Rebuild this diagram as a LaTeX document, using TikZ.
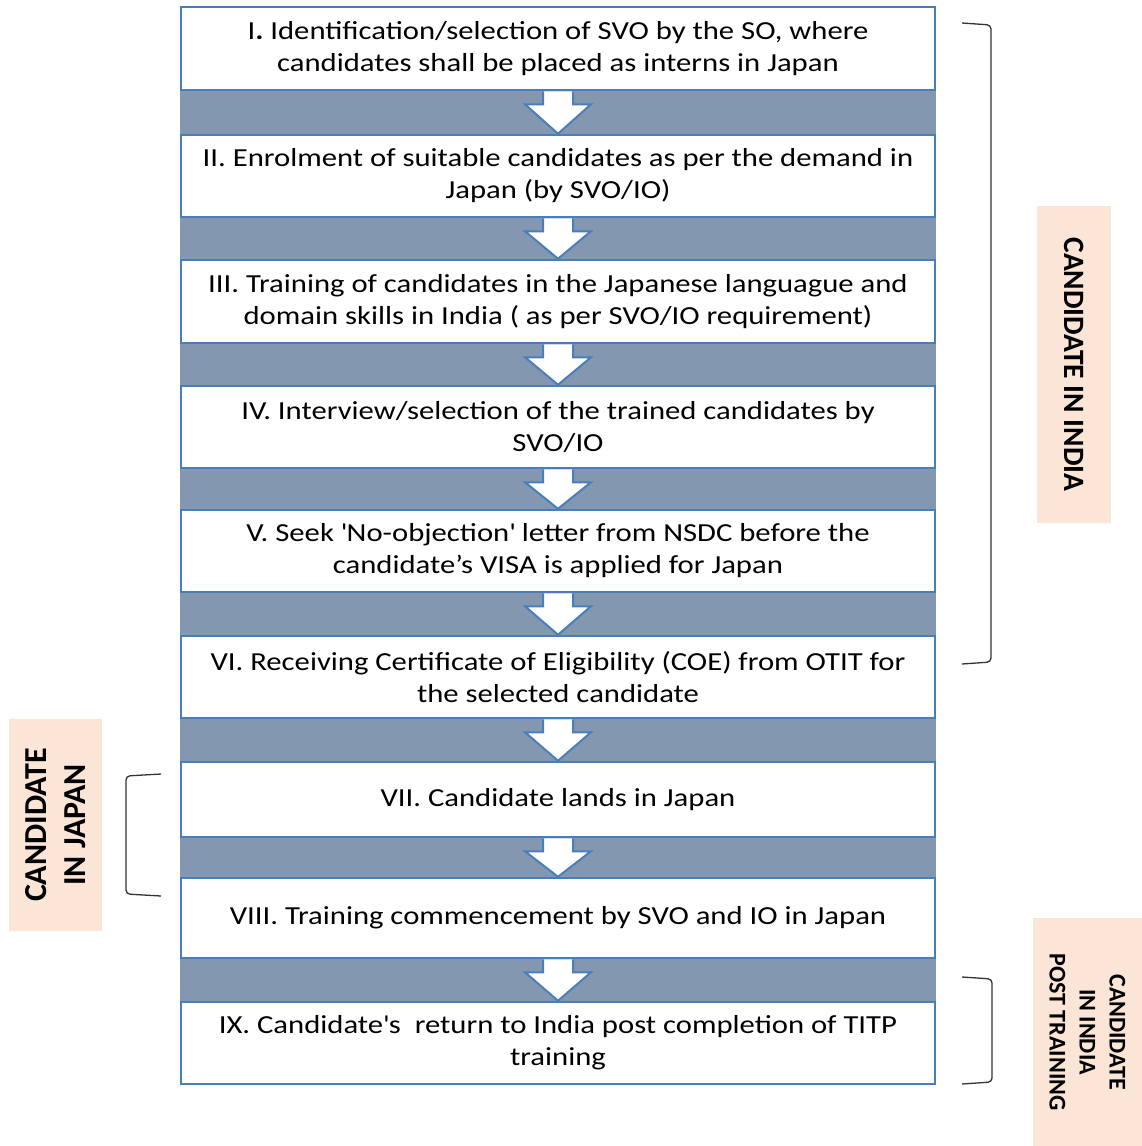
\documentclass[tikz,border=0pt]{standalone}
\usepackage{fontspec}
\setmainfont{Carlito}
\newfontfamily\boxfont{Carlito}[FakeStretch=1.18]
\usetikzlibrary{calc,backgrounds}

\definecolor{boxblue}{RGB}{74,126,187}
\definecolor{bandgrey}{RGB}{132,151,176}
\definecolor{peach}{RGB}{251,229,214}

\tikzset{
  stepbox/.style={draw=boxblue,line width=2.5pt,fill=white,minimum width=754pt,align=center,inner sep=0pt,font=\boxfont\fontsize{26}{32}\selectfont},
  flowarrow/.style={draw=boxblue,line width=2pt,fill=white,line join=miter},
  sidelabel/.style={fill=peach,inner sep=0pt,align=center,font=\bfseries\fontsize{32}{39}\selectfont},
  bracket/.style={draw=black!80,line width=1.3pt,rounded corners=4pt}
}

\begin{document}
\begin{tikzpicture}[x=1pt,y=-1pt]
  \useasboundingbox (0,0) rectangle (1142,1146);

  % the nine steps
  \node[stepbox,minimum height=83pt] (s1) at (558,48.5) {I\textbf{.} Identification/selection of SVO by the SO, where\\candidates shall be placed as interns in Japan};
  \node[stepbox,minimum height=82pt] (s2) at (558,176) {II. Enrolment of suitable candidates as per the demand in\\Japan (by SVO/IO)};
  \node[stepbox,minimum height=83pt] (s3) at (558,301.5) {III. Training of candidates in the Japanese languague and\\domain skills in India ( as per SVO/IO requirement)};
  \node[stepbox,minimum height=82pt] (s4) at (558,427) {IV. Interview/selection of the trained candidates by\\SVO/IO};
  \node[stepbox,minimum height=82pt] (s5) at (558,551) {V. Seek \textquotesingle No-objection\textquotesingle\ letter from NSDC before the\\candidate’s VISA is applied for Japan};
  \node[stepbox,minimum height=82pt] (s6) at (558,677) {VI. Receiving Certificate of Eligibility (COE) from OTIT for\\the selected candidate};
  \node[stepbox,minimum height=75pt] (s7) at (558,799.5) {VII. Candidate lands in Japan};
  \node[stepbox,minimum height=80pt] (s8) at (558,918) {VIII. Training commencement by SVO and IO in Japan};
  \node[stepbox,minimum height=82pt] (s9) at (558,1043) {IX. Candidate\textquotesingle s\ \ return to India post completion of TITP\\training};

  % grey bands with the white arrows
  \begin{scope}[on background layer]
    \foreach \a/\b in {1/2,2/3,3/4,4/5,5/6,6/7,7/8,8/9} {
      \fill[bandgrey] (s\a.south west) rectangle (s\b.north east);
      \draw[flowarrow] ($(s\a.south)+(-15,0)$) -- ++(0,13) -- ++(-18,0) -- (s\b.north)
        -- ($(s\a.south)+(33,13)$) -- ++(-18,0) -- ++(0,-13);
    }
  \end{scope}

  % side labels
  \node[sidelabel,rotate=-90,minimum width=317pt,minimum height=74pt,font=\bfseries\fontsize{29.5}{36}\selectfont] (india) at (1074,364.5) {CANDIDATE IN INDIA};
  \node[sidelabel,rotate=90,minimum width=212pt,minimum height=93pt] (japan) at (55.5,825) {CANDIDATE\\IN JAPAN};
  \node[sidelabel,rotate=-90,minimum width=228pt,minimum height=109pt,font=\bfseries\fontsize{24}{30}\selectfont] (post) at (1087.5,1032) {CANDIDATE\\IN INDIA\\POST TRAINING};

  % brackets
  \draw[bracket] (962,23) -- (991,25) -- (991,662) -- (962,664);
  \draw[bracket] (161,774) -- (126,776) -- (126,894) -- (161,896);
  \draw[bracket] (962,977) -- (992,979) -- (992,1082) -- (962,1084);
\end{tikzpicture}
\end{document}
